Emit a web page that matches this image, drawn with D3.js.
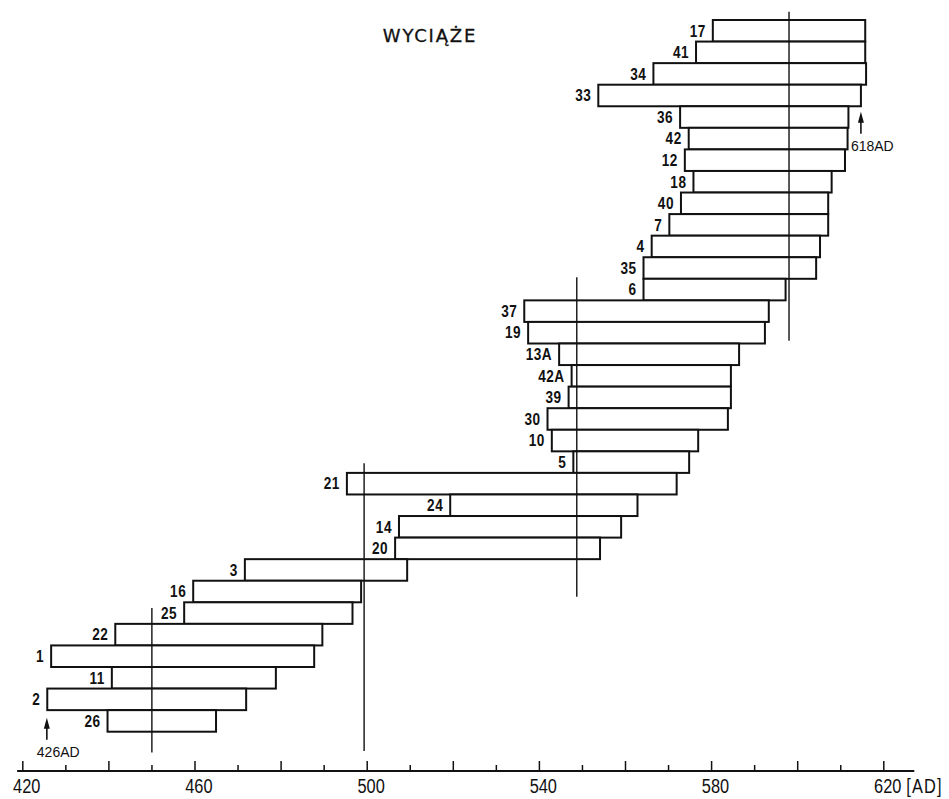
<!DOCTYPE html>
<html>
<head>
<meta charset="utf-8">
<script src="https://cdn.jsdelivr.net/npm/d3@7"></script>
<style>
  html, body { margin: 0; padding: 0; background: #fff; }
  svg { display: block; }
  .lbl { font-family: "Liberation Sans", Arial, sans-serif; }
</style>
</head>
<body>
<div id="chart"></div>
<script>
// sample ids, top to bottom
const samples = ["17", "41", "34", "33", "36", "42", "12", "18", "40", "7", "4", "35", "6",
  "37", "19", "13A", "42A", "39", "30", "10", "5", "21", "24", "14", "20", "3", "16", "25",
  "22", "1", "11", "2", "26"];
// first and last year of each bar
const startYears = [580.4, 576.5, 566.6, 553.8, 572.8, 574.8, 573.9, 575.9, 573.0, 570.3, 566.2, 564.3, 564.3,
  536.6, 537.5, 544.7, 547.6, 546.9, 542.0, 543.0, 548.0, 495.4, 519.4, 507.5, 506.6, 471.7, 459.7, 457.6,
  441.6, 426.7, 440.8, 425.8, 439.8];
const endYears = [615.8, 615.8, 616.0, 614.8, 611.9, 611.7, 611.1, 608.0, 607.2, 607.2, 605.3, 604.4, 597.3,
  593.4, 592.5, 586.5, 584.6, 584.6, 583.9, 577.0, 574.9, 572.0, 562.9, 559.1, 554.2, 509.4, 498.7, 496.7,
  489.7, 487.8, 478.9, 472.0, 465.0];

// vertical marker lines: year, and the rows they run between
const refYears = [450.1, 499.4, 548.8, 598.1];
const refFromRow = [27.27, 20.55, 11.93, -0.38];
const refToRow = [33.97, 33.9, 26.74, 14.87];

// arrows with dates
const arrowYears = [425.7, 614.8];
const arrowRows = [32.35, 4.25];
const arrowLabels = ["426AD", "618AD"];

// axis ticks
const tickYears = d3.range(420, 621, 10);
const labelYears = [420, 460, 500, 540, 580, 620];

const W = 949, H = 799;
const svg = d3.select("#chart").append("svg")
  .attr("width", W)
  .attr("height", H);

const x = d3.scaleLinear().domain([420, 620]).range([22.3, 883.3]);
const y = d3.scaleBand().domain(samples).range([20, 731.7]).padding(0);
const rowY = d3.scaleLinear().domain([0, samples.length]).range(y.range());
const axisY = 771;

// title
svg.append("text")
  .attr("x", 430)
  .attr("y", 42)
  .attr("text-anchor", "middle")
  .style("font-family", "'DejaVu Sans', sans-serif")
  .style("font-size", "18px")
  .style("letter-spacing", "1.8px")
  .attr("fill", "#111")
  .attr("stroke", "#111")
  .attr("stroke-width", 0.3)
  .text("WYCIĄŻE");

// bars
const bars = samples.map((s, i) => ({ id: s, start: startYears[i], end: endYears[i] }));

svg.selectAll(".bar")
  .data(bars)
  .join("rect")
  .attr("class", "bar")
  .attr("x", d => x(d.start))
  .attr("y", d => y(d.id))
  .attr("width", d => x(d.end) - x(d.start))
  .attr("height", y.bandwidth())
  .attr("fill", "#fff")
  .attr("stroke", "#111")
  .attr("stroke-width", 2);

// labels are drawn narrow, like the stencil lettering of the original
svg.selectAll(".bar-label")
  .data(bars)
  .join("g")
  .attr("class", "bar-label")
  .attr("transform", d => `translate(${x(d.start) - 7},${y(d.id) + y.bandwidth() / 2})`)
  .append("text")
  .attr("class", "lbl")
  .attr("transform", "scale(0.85,1)")
  .attr("dy", "0.36em")
  .attr("text-anchor", "end")
  .style("font-size", "16px")
  .style("font-weight", "bold")
  .style("letter-spacing", "0.6px")
  .attr("fill", "#111")
  .text(d => d.id);

// vertical marker lines
svg.selectAll(".ref")
  .data(refYears)
  .join("line")
  .attr("class", "ref")
  .attr("x1", d => x(d))
  .attr("x2", d => x(d))
  .attr("y1", (d, i) => rowY(refFromRow[i]))
  .attr("y2", (d, i) => rowY(refToRow[i]))
  .attr("stroke", "#111")
  .attr("stroke-width", 1.4);

// arrows
const arrows = arrowYears.map((a, i) => ({ year: a, row: arrowRows[i], label: arrowLabels[i] }));
const ag = svg.selectAll(".arrow")
  .data(arrows)
  .join("g")
  .attr("class", "arrow")
  .attr("transform", d => `translate(${x(d.year)},${rowY(d.row)})`);

ag.append("line")
  .attr("y1", 4)
  .attr("y2", 22)
  .attr("stroke", "#111")
  .attr("stroke-width", 1.6);
ag.append("path")
  .attr("d", "M0,0 L-3,11 L3,11 Z")
  .attr("fill", "#111");
ag.append("text")
  .attr("class", "lbl")
  .attr("x", -10)
  .attr("y", 39)
  .style("font-size", "14px")
  .attr("fill", "#111")
  .text(d => d.label);

// x axis
const axis = d3.axisBottom(x)
  .tickValues(tickYears)
  .tickSize(0)
  .tickPadding(0)
  .tickFormat(d => labelYears.includes(d) ? d : "");

const gx = svg.append("g")
  .attr("transform", `translate(0,${axisY})`)
  .call(axis);

gx.select(".domain").remove();
gx.append("line")
  .attr("x1", x(418.8))
  .attr("x2", x(627.2))
  .attr("stroke", "#111")
  .attr("stroke-width", 2);
gx.selectAll(".tick line")
  .attr("y2", d => d % 20 === 0 ? -10 : -6)
  .attr("stroke", "#111")
  .attr("stroke-width", 1.5);
gx.selectAll(".tick text")
  .attr("class", "lbl")
  .attr("transform", "scale(0.78,1)")
  .attr("x", 5)
  .attr("y", 22)
  .attr("dy", 0)
  .style("font-size", "21px")
  .attr("fill", "#111");

svg.append("g")
  .attr("transform", `translate(${x(620) + 23},${axisY + 22})`)
  .append("text")
  .attr("class", "lbl")
  .attr("transform", "scale(0.78,1)")
  .style("font-size", "21px")
  .style("letter-spacing", "1.5px")
  .attr("fill", "#111")
  .text("[AD]");
</script>
</body>
</html>
